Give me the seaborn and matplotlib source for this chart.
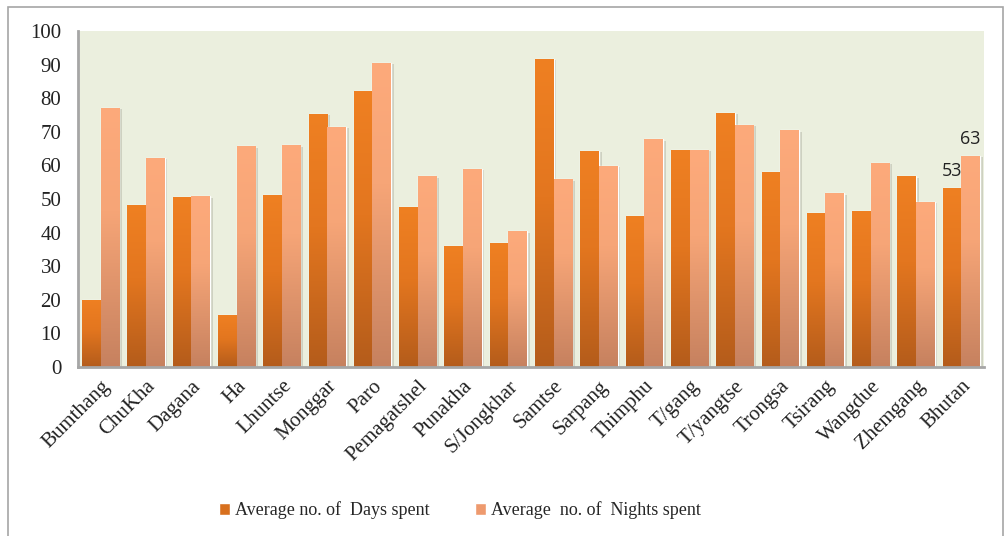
import numpy as np
import pandas as pd
import matplotlib
matplotlib.use("Agg")
import matplotlib.pyplot as plt
import matplotlib.patheffects as pe
from matplotlib.colors import LinearSegmentedColormap
from matplotlib.patches import Patch, Rectangle
import seaborn as sns

# data
districts = ["Bumthang", "ChuKha", "Dagana", "Ha", "Lhuntse", "Monggar", "Paro",
             "Pemagatshel", "Punakha", "S/Jongkhar", "Samtse", "Sarpang", "Thimphu",
             "T/gang", "T/yangtse", "Trongsa", "Tsirang", "Wangdue", "Zhemgang", "Bhutan"]
days = [20.0, 48.2, 50.5, 15.4, 51.1, 75.3, 82.1, 47.6, 35.9, 36.8,
        91.7, 64.3, 44.9, 64.6, 75.6, 58.0, 45.8, 46.4, 56.8, 53.2]
nights = [77.1, 62.2, 50.8, 65.7, 66.0, 71.4, 90.5, 56.8, 58.9, 40.4,
          55.9, 59.8, 67.8, 64.6, 72.0, 70.5, 51.7, 60.7, 49.1, 62.8]
series = ["Average no. of  Days spent", "Average  no. of  Nights spent"]
yticks = list(range(0, 101, 10))

df = pd.DataFrame({
    "district": districts * 2,
    "value": days + nights,
    "series": [series[0]] * len(districts) + [series[1]] * len(districts),
})

sns.set_style("white")
plt.rcParams["font.family"] = ["Liberation Serif", "DejaVu Serif"]

fig = plt.figure(figsize=(10.05, 5.36), dpi=100)
ax = fig.add_axes([78 / 1005, 1 - 367 / 536, (984 - 78) / 1005, (367 - 31) / 536])

base_cols = ["#D8701E", "#EE9A6E"]
sns.barplot(data=df, x="district", y="value", hue="series", palette=base_cols,
            width=0.82, gap=0, ax=ax, legend=False, zorder=2)

# gradient fills like the Excel original
grads = [
    LinearSegmentedColormap.from_list("d", [(0, "#B45C1B"), (0.55, "#E3761F"), (1, "#EF8022")]),
    LinearSegmentedColormap.from_list("n", [(0, "#C6815F"), (0.6, "#F6A577"), (1, "#FDAA7B")]),
]
grad = np.linspace(0, 1, 256).reshape(-1, 1)
for cont, cmap in zip(ax.containers, grads):
    for p in cont:
        p.set_path_effects([pe.SimplePatchShadow(offset=(2, -1), shadow_rgbFace="#8E8E80", alpha=0.3),
                            pe.Normal()])
        x0, y0 = p.get_x(), p.get_y()
        w, h = p.get_width(), p.get_height()
        im = ax.imshow(grad, cmap=cmap, origin="lower", aspect="auto",
                       extent=[x0, x0 + w, y0, y0 + h], zorder=3)
        im.set_clip_path(p)

ax.set_xlim(-0.5, len(districts) - 0.5)
ax.set_ylim(0, 100)
ax.set_facecolor("#EBEFDE")
ax.set_xlabel("")
ax.set_ylabel("")
ax.set_yticks(yticks)
ax.tick_params(axis="y", length=0, pad=12, labelsize=15, colors="#222222")
ax.tick_params(axis="x", length=0, pad=7, labelsize=15, colors="#222222")
plt.setp(ax.get_xticklabels(), rotation=45, ha="right", rotation_mode="anchor")
for s in ["top", "right"]:
    ax.spines[s].set_visible(False)
for s in ["left", "bottom"]:
    ax.spines[s].set_color("#A6A6A6")
    ax.spines[s].set_linewidth(2)
    ax.spines[s].set_zorder(5)

# value labels on the Bhutan bars
last = len(districts) - 1
for cont, val in zip(ax.containers, [days[last], nights[last]]):
    p = cont[last]
    ax.annotate(f"{val:.0f}", (p.get_x() + p.get_width() / 2, val), xytext=(0, 6),
                textcoords="offset points", ha="center", va="bottom",
                fontsize=13, family=["Open Sans", "DejaVu Sans"], color="#222222")

handles = [Patch(facecolor=base_cols[0]), Patch(facecolor=base_cols[1])]
fig.legend(handles, series, loc="center", bbox_to_anchor=(0.458, 0.048), ncol=2,
           frameon=False, fontsize=13, handlelength=0.6, handleheight=0.6,
           handletextpad=0.3, columnspacing=2.5)

fig.add_artist(Rectangle((8 / 1005, -0.02), (1003 - 8) / 1005, 1.02 - 7 / 536,
                         transform=fig.transFigure, fill=False, edgecolor="#A6A6A6", lw=1.2))

fig.savefig("out.png", dpi=100, facecolor="white")
